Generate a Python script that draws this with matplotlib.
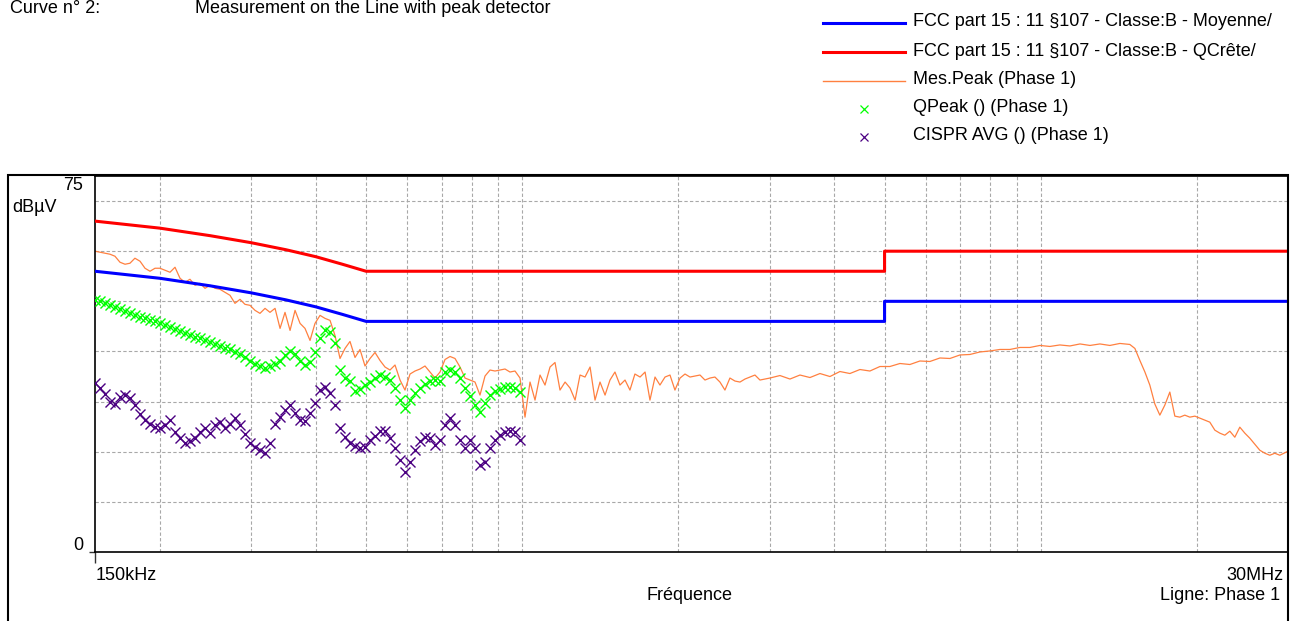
import matplotlib
matplotlib.use("Agg")
import matplotlib.pyplot as plt
from matplotlib.lines import Line2D
from matplotlib.patches import Rectangle

plt.rcParams["font.family"] = ["Liberation Sans", "DejaVu Sans"]

# sweep frequencies in MHz, 0.15 - 1 MHz (QPeak / AVG measured here)
freq_low = [0.1500, 0.1534, 0.1568, 0.1603, 0.1639, 0.1676, 0.1714, 0.1752, 0.1791, 0.1832,
            0.1873, 0.1915, 0.1958, 0.2002, 0.2047, 0.2093, 0.2140, 0.2188, 0.2237, 0.2287,
            0.2339, 0.2391, 0.2445, 0.2500, 0.2556, 0.2613, 0.2672, 0.2732, 0.2793, 0.2856,
            0.2920, 0.2986, 0.3053, 0.3121, 0.3192, 0.3263, 0.3337, 0.3412, 0.3488, 0.3567,
            0.3647, 0.3729, 0.3812, 0.3898, 0.3985, 0.4075, 0.4166, 0.4260, 0.4355, 0.4453,
            0.4553, 0.4655, 0.4760, 0.4867, 0.4976, 0.5088, 0.5202, 0.5319, 0.5438, 0.5560,
            0.5685, 0.5813, 0.5943, 0.6077, 0.6213, 0.6353, 0.6495, 0.6641, 0.6790, 0.6943,
            0.7099, 0.7258, 0.7421, 0.7588, 0.7758, 0.7932, 0.8110, 0.8292, 0.8479, 0.8669,
            0.8864, 0.9063, 0.9266, 0.9474, 0.9687, 0.9905]
freq_mid = [1.0127, 1.0355, 1.0587, 1.0825, 1.1068, 1.1317, 1.157, 1.183, 1.210, 1.237,
            1.265, 1.293, 1.322, 1.352, 1.382, 1.413, 1.445, 1.477, 1.510, 1.544,
            1.579, 1.614, 1.650, 1.688, 1.726, 1.764, 1.804, 1.844, 1.886, 1.928,
            1.971, 2.016, 2.061, 2.107, 2.154, 2.203, 2.252, 2.303, 2.354, 2.407,
            2.461, 2.516, 2.573, 2.631, 2.690, 2.750, 2.812, 2.875]
freq_high = [3.005, 3.142, 3.285, 3.434, 3.590, 3.753, 3.923, 4.101, 4.287, 4.482,
             4.685, 4.898, 5.120, 5.353, 5.596, 5.850, 6.115, 6.394, 6.684, 6.988,
             7.305, 7.637, 7.983, 8.346, 8.725, 9.121, 9.535, 9.968, 10.42, 10.89,
             11.39, 11.91, 12.45, 13.01, 13.60, 14.22, 14.86,
             15.20, 15.54, 15.89, 16.24, 16.61, 16.98, 17.36, 17.75, 18.15, 18.56,
             18.97, 19.40, 19.84, 20.28, 20.74, 21.20, 21.68, 22.17, 22.66, 23.17,
             23.69, 24.22, 24.77, 25.32, 25.89, 26.47, 27.07, 27.67, 28.29, 28.93, 30.0]

# Mes.Peak (Phase 1), dBuV
peak_low = [60.0, 59.8, 59.6, 59.4, 59.0, 57.8, 57.4, 57.6, 58.6, 58.0,
            56.6, 56.0, 56.6, 56.6, 56.2, 55.8, 56.8, 54.6, 53.8, 54.4,
            53.2, 53.6, 52.6, 53.2, 52.6, 52.4, 51.8, 51.2, 49.6, 50.4,
            49.4, 49.2, 48.2, 47.6, 48.6, 47.8, 48.6, 44.6, 47.8, 44.2,
            48.2, 45.6, 44.6, 42.2, 45.6, 47.2, 46.6, 46.2, 43.2, 38.6,
            40.6, 42.0, 38.8, 40.4, 37.1, 38.6, 39.8, 38.2, 36.9, 36.3,
            37.3, 34.3, 32.3, 35.5, 36.1, 36.5, 37.1, 35.9, 34.7, 35.9,
            38.4, 39.0, 38.6, 36.9, 34.7, 34.3, 33.9, 31.3, 35.1, 36.3,
            36.1, 36.3, 36.5, 35.9, 36.1, 34.7]
peak_mid = [26.9, 33.9, 30.3, 35.3, 33.3, 36.9, 37.8, 32.3, 33.9, 32.7,
            30.3, 35.3, 34.9, 36.9, 30.3, 33.9, 31.3, 34.3, 35.9, 33.3,
            34.3, 32.3, 35.5, 34.9, 35.9, 30.3, 34.9, 33.3, 34.9, 35.3,
            32.3, 34.7, 35.5, 34.9, 35.1, 35.3, 34.3, 34.7, 34.9, 33.9,
            32.3, 34.7, 34.1, 33.9, 34.5, 34.9, 35.3, 34.3]
peak_high = [34.7, 35.2, 34.5, 35.3, 34.8, 35.6, 35.0, 36.0, 35.6, 36.4,
             36.1, 37.0, 37.0, 37.6, 37.4, 38.1, 38.0, 38.7, 38.6, 39.3,
             39.4, 39.9, 40.1, 40.4, 40.4, 40.8, 40.8, 41.2, 41.0, 41.3,
             41.1, 41.5, 41.2, 41.5, 41.2, 41.6, 41.4,
             40.6, 38.2, 35.9, 33.3, 29.5, 27.3, 29.3, 31.9, 27.1, 26.9,
             27.3, 26.9, 27.1, 26.7, 26.3, 25.9, 24.3, 23.7, 23.3, 24.1,
             22.9, 24.9, 23.7, 22.7, 21.5, 20.3, 19.7, 19.3, 19.7, 19.3, 20.1]

# QPeak () (Phase 1)
qpeak = [50.2, 50.0, 49.6, 49.2, 48.8, 48.4, 48.0, 47.6, 47.2, 46.8,
         46.6, 46.2, 46.0, 45.6, 45.2, 44.8, 44.4, 44.0, 43.6, 43.2,
         42.8, 42.6, 42.2, 41.8, 41.4, 41.0, 40.6, 40.4, 39.8, 39.4,
         38.8, 38.0, 37.5, 37.1, 36.7, 37.1, 37.5, 38.0, 39.2, 40.0,
         39.4, 38.0, 37.3, 37.8, 39.8, 42.6, 44.2, 43.8, 41.6, 36.3,
         34.7, 34.1, 32.1, 32.5, 33.3, 33.9, 34.7, 35.3, 34.9, 34.3,
         32.7, 30.3, 28.7, 30.3, 31.7, 32.7, 33.5, 34.1, 34.3, 34.1,
         35.9, 36.3, 35.9, 34.7, 32.7, 31.1, 29.3, 27.9, 29.7, 31.3,
         32.1, 32.5, 32.9, 32.9, 32.7, 31.9]

# CISPR AVG () (Phase 1)
cispr_avg = [33.7, 32.7, 31.5, 29.9, 29.5, 30.9, 31.3, 30.7, 29.3, 27.5,
             26.3, 25.5, 24.9, 24.7, 25.3, 26.3, 23.9, 22.7, 21.7, 22.1,
             22.7, 23.9, 24.7, 23.7, 25.3, 25.9, 24.7, 25.5, 26.7, 25.3,
             23.5, 21.7, 20.9, 20.3, 19.7, 21.7, 25.5, 26.9, 28.3, 29.3,
             27.7, 26.3, 26.1, 27.7, 29.7, 32.3, 32.9, 31.7, 29.3, 24.7,
             22.9, 21.7, 21.1, 20.7, 20.9, 22.3, 23.1, 24.1, 24.1, 22.7,
             20.7, 18.3, 15.9, 17.9, 20.3, 22.1, 22.9, 22.7, 21.3, 22.3,
             25.3, 26.7, 25.3, 22.3, 20.7, 22.3, 20.7, 17.3, 17.9, 20.7,
             22.3, 23.3, 23.9, 24.1, 23.9, 22.3]

# FCC part 15 class B limits (as drawn by the receiver software)
limit_freq = [0.15, 0.2, 0.25, 0.3, 0.35, 0.4, 0.45, 0.5, 5.0, 5.0, 30.0]
limit_qp = [66, 64.6, 63.1, 61.7, 60.3, 58.9, 57.4, 56, 56, 60, 60]
limit_avg = [56, 54.6, 53.1, 51.7, 50.3, 48.9, 47.4, 46, 46, 50, 50]

legend_labels = ["FCC part 15 : 11 §107 - Classe:B - Moyenne/",
                 "FCC part 15 : 11 §107 - Classe:B - QCrête/",
                 "Mes.Peak (Phase 1)",
                 "QPeak () (Phase 1)",
                 "CISPR AVG () (Phase 1)"]

grid_freq = [0.2, 0.3, 0.4, 0.5, 0.6, 0.7, 0.8, 0.9, 1, 2, 3, 4, 5, 6, 7, 8, 9, 10, 20]
grid_db = [10, 20, 30, 40, 50, 60, 70]

W, H = 1299, 621
FS = 13
C_BLUE, C_RED, C_ORANGE, C_GREEN, C_PURPLE = "#0000FF", "#FF0000", "#FF8040", "#00FF00", "#4B0082"


def fx(px):
    return px / W


def fy(py):
    return 1 - py / H


fig = plt.figure(figsize=(W / 100, H / 100), dpi=100)
ax = fig.add_axes([fx(95), fy(552), fx(1288) - fx(95), fy(176) - fy(552)])

for f in grid_freq:
    ax.axvline(f, color="#A8A8A8", lw=0.8, ls=(0, (3, 2)), zorder=1)
for d in grid_db:
    ax.axhline(d, color="#A8A8A8", lw=0.8, ls=(0, (3, 2)), zorder=1)

ax.semilogx(freq_low + freq_mid + freq_high, peak_low + peak_mid + peak_high,
            color=C_ORANGE, lw=0.9, zorder=2)
ax.semilogx(freq_low, qpeak, ls="none", marker="x", ms=7, mew=1.0, color=C_GREEN, zorder=3)
ax.semilogx(freq_low, cispr_avg, ls="none", marker="x", ms=7, mew=1.0, color=C_PURPLE, zorder=3)
ax.semilogx(limit_freq, limit_avg, color=C_BLUE, lw=2.2, zorder=4)
ax.semilogx(limit_freq, limit_qp, color=C_RED, lw=2.2, zorder=4)

ax.set_xlim(0.15, 30)
ax.set_ylim(0, 75)
ax.set_xticks([0.15])
ax.set_xticks([], minor=True)
ax.set_xticklabels([])
ax.set_yticks([0])
ax.set_yticklabels([])
ax.tick_params(axis="x", length=8, width=1, direction="out", color="#333333")
ax.tick_params(axis="y", length=4, width=1, direction="out", color="#333333")
for s in ax.spines.values():
    s.set_color("black")
    s.set_linewidth(1.2)

# outer frame
fig.add_artist(Rectangle((fx(8), -0.1), fx(1288) - fx(8), fy(175) + 0.1,
                         transform=fig.transFigure, fill=False, ec="black", lw=1.5))

fig.text(fx(83), fy(186), "75", ha="right", va="center", fontsize=FS)
fig.text(fx(12), fy(208), "dBµV", ha="left", va="center", fontsize=FS)
fig.text(fx(83), fy(546), "0", ha="right", va="center", fontsize=FS)
fig.text(fx(96), fy(576), "150kHz", ha="left", va="center", fontsize=FS)
fig.text(fx(1283), fy(576), "30MHz", ha="right", va="center", fontsize=FS)
fig.text(fx(690), fy(596), "Fréquence", ha="center", va="center", fontsize=FS)
fig.text(fx(1280), fy(596), "Ligne: Phase 1", ha="right", va="center", fontsize=FS)

fig.text(fx(10), fy(13), "Curve n° 2:", ha="left", va="baseline", fontsize=FS)
fig.text(fx(195), fy(13), "Measurement on the Line with peak detector", ha="left",
         va="baseline", fontsize=FS)

# legend drawn by hand
rows = [23, 52, 81, 109, 137]
styles = [dict(color=C_BLUE, lw=2.2), dict(color=C_RED, lw=2.2), dict(color=C_ORANGE, lw=1.0)]
for y, st in zip(rows[:3], styles):
    fig.add_artist(Line2D([fx(823), fx(905)], [fy(y), fy(y)], transform=fig.transFigure, **st))
for y, c in zip(rows[3:], [C_GREEN, C_PURPLE]):
    fig.add_artist(Line2D([fx(864)], [fy(y)], transform=fig.transFigure, ls="none",
                          marker="x", ms=5.5, mew=0.9, color=c))
for y, lab in zip(rows, legend_labels):
    fig.text(fx(913), fy(y - 1), lab, ha="left", va="center", fontsize=FS)

fig.savefig("out.png", dpi=100)
